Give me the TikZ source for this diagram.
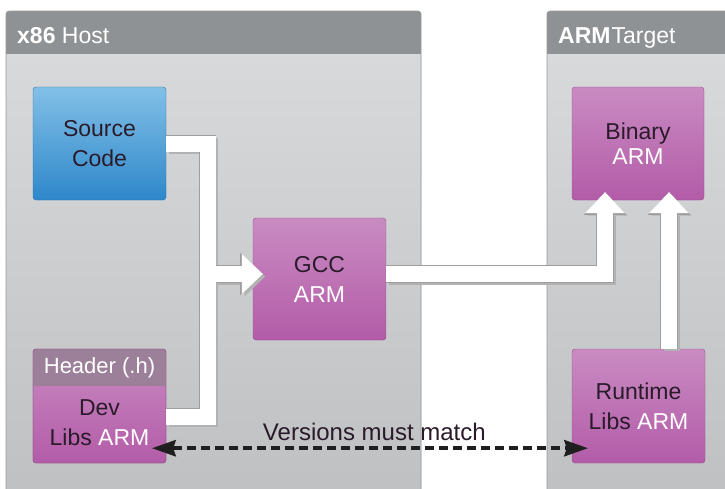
\documentclass[tikz,border=0pt]{standalone}
\usepackage{fontspec}
\setmainfont{Liberation Sans}
\usetikzlibrary{arrows.meta,calc}
\definecolor{hdrgray}{HTML}{8F9294}
\definecolor{bodytop}{HTML}{D8D9DB}
\definecolor{bodybot}{HTML}{BEC0C2}
\definecolor{magtop}{HTML}{C98BC2}
\definecolor{magbot}{HTML}{B35CA8}
\definecolor{hpurp}{HTML}{9C8099}
\definecolor{bluetop}{HTML}{82C0E7}
\definecolor{bluebot}{HTML}{2E87CA}
\definecolor{ink}{HTML}{2A1B2A}
\begin{document}
\begin{tikzpicture}[x=1pt,y=-1pt,
  magbox/.style={rectangle, rounded corners=3pt, draw=magbot!85!black, line width=0.4pt,
    top color=magtop, bottom color=magbot, text=ink, align=center, inner sep=0pt,
    font=\fontsize{23}{30}\selectfont},
  bluebox/.style={magbox, draw=bluebot!85!black, top color=bluetop, bottom color=bluebot},
  titletext/.style={anchor=base west, text=white, inner sep=0pt, font=\fontsize{23}{28}\selectfont},
  pipeshadow/.style={line width=16pt, draw=black!30, line join=miter,
    transform canvas={shift={(2.5pt,-2.5pt)}}},
  pipeedge/.style={line width=17.6pt, draw=black!38, line join=miter},
  pipe/.style={line width=16pt, draw=white, line join=miter},
  pipetip/.style={-{Triangle[length=21pt,width=40pt,line width=0pt]}},
  edgetip/.style={-{Triangle[length=22.6pt,width=42.4pt,line width=0pt]}},
  vline/.style={line width=3.5pt, draw=black!88, dash pattern=on 9pt off 5pt,
    {Stealth[length=24pt,width=17pt,inset=3pt,line width=0pt]}-{Stealth[length=24pt,width=17pt,inset=3pt,line width=0pt]}}
]
\useasboundingbox (0,0) rectangle (725,488);
\clip (0,0) rectangle (725,488);
\fill[white] (0,0) rectangle (725,488);
% panels
\foreach \xa/\xb in {6/421, 547/740} {
  \fill[hdrgray, rounded corners=3pt] (\xa,11) rectangle (\xb,500);
  \shade[top color=bodytop, bottom color=bodybot] (\xa,54) rectangle (\xb,500);
  \draw[black!40, rounded corners=3pt, line width=0.6pt] (\xa,11) rectangle (\xb,500);
}
\node[titletext] (t1) at (17,43) {\textbf{x86} Host};
\node[titletext] (t2) at (558,43) {\textbf{ARM}\kern1pt Target};

% boxes
\node[bluebox, minimum width=133pt, minimum height=113pt] (src) at (99.5,143.5) {Source\\Code};
\node[magbox, minimum width=133pt, minimum height=122pt] (gcc) at (319.5,279) {GCC\\\textcolor{white}{ARM}};
\node[magbox, minimum width=133pt, minimum height=114pt] (dev) at (99.5,406) {};
\begin{scope}
  \clip[rounded corners=3pt] (33,349) rectangle (166,463);
  \fill[hpurp] (33,349) rectangle (166,386);
\end{scope}
\draw[magbot!85!black, line width=0.4pt, rounded corners=3pt] (33,349) rectangle (166,463);
\node[anchor=center, text=white, inner sep=0pt, font=\fontsize{22}{26}\selectfont] (hdr) at (99.5,368) {Header (.h)};
\node[anchor=center, align=center, text=ink, inner sep=0pt, font=\fontsize{23}{30}\selectfont] (devlbl) at (99.5,423) {Dev\\Libs \textcolor{white}{ARM}};
\node[magbox, minimum width=132pt, minimum height=113pt, font=\fontsize{23}{25}\selectfont] (bin) at (638,143.5) {Binary\\\textcolor{white}{ARM}};
\node[magbox, minimum width=133pt, minimum height=114pt] (rt) at (638.5,406) {Runtime\\Libs \textcolor{white}{ARM}};

% pipe coordinates
\coordinate (j) at (207.5,274);
\coordinate (devout) at ($(dev.east)+(0,10.5)$);
\coordinate (gccin) at ($(gcc.west |- j)+(10,0)$);
\coordinate (gccout) at ($(gcc.east)+(0,-5)$);
\coordinate (binin1) at ($(bin.south)+(-33,-8)$);
\coordinate (binin2) at ($(bin.south)+(31,-8)$);

% shadows
\draw[pipeshadow, pipetip] (src.east) -| (j) -- (gccin);
\draw[pipeshadow] (devout) -| (j);
\draw[pipeshadow, pipetip] (gccout) -| (binin1);
\draw[pipeshadow, pipetip] (rt.north -| binin2) -- (binin2);
% edges
\draw[pipeedge, edgetip] (src.east) -| (j) -- (gccin);
\draw[pipeedge] (devout) -| (j);
\draw[pipeedge, edgetip] (gccout) -| (binin1);
\draw[pipeedge, edgetip] (rt.north -| binin2) -- (binin2);
% pipes
\draw[pipe, pipetip] (src.east) -| (j) -- (gccin);
\draw[pipe] (devout) -| (j);
\draw[pipe, pipetip] (gccout) -| (binin1);
\draw[pipe, pipetip] (rt.north -| binin2) -- (binin2);

% versions arrow
\coordinate (da) at ($(dev.south east)+(-14,-15)$);
\coordinate (db) at ($(rt.south west)+(16,-15)$);
\draw[vline] (da) -- node[pos=0.51, above=6pt, inner sep=0pt, text=ink, font=\fontsize{24}{28}\selectfont] (vm) {Versions must match} (db);
\end{tikzpicture}
\end{document}
